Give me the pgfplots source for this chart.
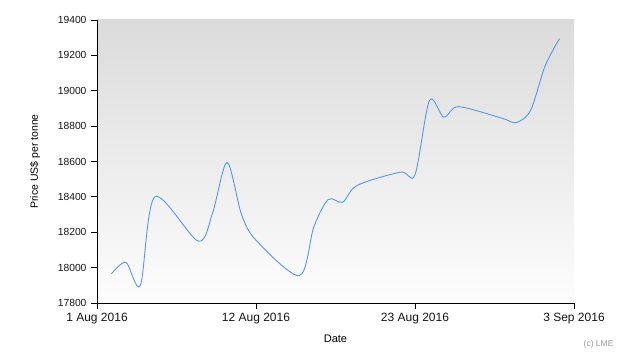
\documentclass[border=0pt]{standalone}
\usepackage{fontspec}
\setmainfont{Liberation Sans}
\usepackage{pgfplots}
\pgfplotsset{compat=1.18}
\definecolor{bgtop}{RGB}{219,219,219}
\definecolor{bgbot}{RGB}{253,253,253}
\definecolor{linec}{RGB}{85,150,240}
\definecolor{txt}{RGB}{20,20,20}
\begin{document}
\begin{tikzpicture}
\useasboundingbox (-97bp,-57bp) rectangle (533bp,303bp);
\begin{axis}[
  scale only axis,
  width=477bp, height=283bp,
  xmin=0, xmax=33, ymin=17800, ymax=19400,
  axis x line=bottom, axis y line=left,
  axis line style={-, black, line width=0.8pt},
  axis background/.style={top color=bgtop, bottom color=bgbot},
  xtick={0,11,22,33},
  xticklabels={1 Aug 2016,12 Aug 2016,23 Aug 2016,3 Sep 2016},
  ytick={17800,18000,...,19400},
  scaled y ticks=false,
  yticklabel style={/pgf/number format/fixed, /pgf/number format/precision=0},
  tick align=outside,
  tick style={black, line width=0.8pt},
  major tick length=6bp,
  /pgf/number format/assume math mode=true,
  /pgf/number format/1000 sep={},
  x tick label style={font=\fontsize{12bp}{14bp}\selectfont, text=txt, yshift=-1bp},
  y tick label style={font=\fontsize{10.3bp}{12bp}\selectfont, text=txt, xshift=-1bp},
  xlabel={Date}, ylabel={Price US\$ per tonne},
  xlabel style={font=\fontsize{11bp}{13bp}\selectfont, at={(axis description cs:0.5,-0.127)}, anchor=center},
  ylabel style={font=\fontsize{10.5bp}{13bp}\selectfont, at={(axis description cs:-0.13,0.5)}, anchor=center},
  clip=false,
]
\addplot[smooth, color=linec, line width=0.9pt] coordinates {
(1,17965) (2,18030) (3,17900) (4,18400)
(7,18150) (8,18310) (9,18595) (10,18300) (11,18155)
(14,17955) (15,18230) (16,18385) (17,18370) (18,18465)
(21,18540) (22,18525) (23,18945) (24,18850) (25,18910)
(28,18845) (29,18820) (30,18890) (31,19140) (32,19295)
};
\node[font=\fontsize{8.5bp}{10bp}\selectfont, text=gray!80, anchor=center] at (axis cs:34.7,17568) {(c) LME};
\end{axis}
\end{tikzpicture}
\end{document}
